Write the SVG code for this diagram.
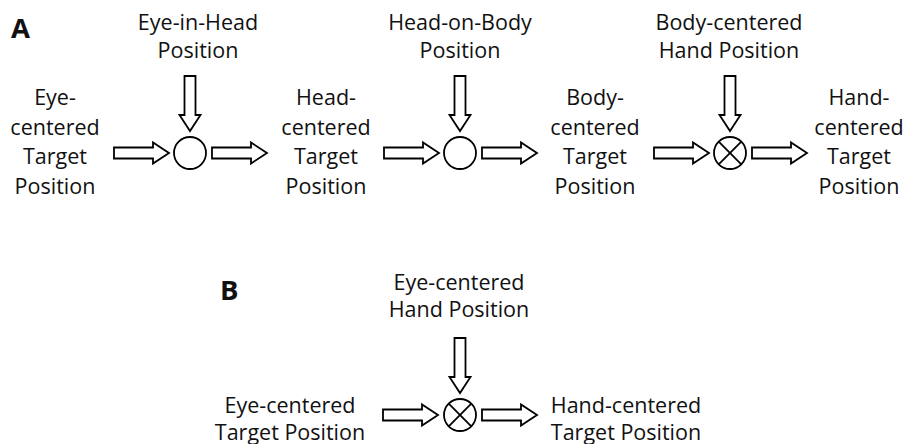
<svg xmlns="http://www.w3.org/2000/svg" xmlns:xlink="http://www.w3.org/1999/xlink" width="911" height="444" viewBox="0 0 911 444">
<defs>
<style>
.t{font-family:"Open Sans","Liberation Sans",sans-serif;font-size:21.5px;fill:#111;text-anchor:middle}
.p{font-family:"Open Sans","Liberation Sans",sans-serif;font-size:27.5px;font-weight:bold;fill:#111}
.ar{fill:#fff;stroke:#000;stroke-width:1.8;stroke-linejoin:miter}
.c{fill:#fff;stroke:#000;stroke-width:1.8}
.x{stroke:#000;stroke-width:1.8}
</style>
<path id="arr" class="ar" d="M0,-5.5 H39 V-10.5 L55,0 L39,10.5 V5.5 H0 Z"/>
</defs>
<rect width="911" height="444" fill="#fff"/>
<text class="p" x="11" y="38">A</text>
<text class="p" x="220" y="299.5">B</text>

<g id="connectors">
<use xlink:href="#arr" transform="translate(114,153)"/>
<use xlink:href="#arr" transform="translate(212,153)"/>
<use xlink:href="#arr" transform="translate(190,76) rotate(90)"/>
<use xlink:href="#arr" transform="translate(384,153)"/>
<use xlink:href="#arr" transform="translate(482,153)"/>
<use xlink:href="#arr" transform="translate(460,76) rotate(90)"/>
<use xlink:href="#arr" transform="translate(654,153)"/>
<use xlink:href="#arr" transform="translate(752,153)"/>
<use xlink:href="#arr" transform="translate(730,76) rotate(90)"/>
<use xlink:href="#arr" transform="translate(383,415)"/>
<use xlink:href="#arr" transform="translate(482,415)"/>
<use xlink:href="#arr" transform="translate(460,338) rotate(90)"/>
</g>

<g id="a-eye-target">
<text class="t" x="55" y="105">Eye-</text>
<text class="t" x="55" y="134.5">centered</text>
<text class="t" x="55" y="164">Target</text>
<text class="t" x="55" y="193.5">Position</text>
</g>
<g id="a-eye-in-head">
<text class="t" x="198" y="30">Eye-in-Head</text>
<text class="t" x="198" y="58">Position</text>
</g>
<g id="a-sum1"><circle class="c" cx="190" cy="153" r="16"/></g>
<g id="a-head-target">
<text class="t" x="326" y="105">Head-</text>
<text class="t" x="326" y="134.5">centered</text>
<text class="t" x="326" y="164">Target</text>
<text class="t" x="326" y="193.5">Position</text>
</g>
<g id="a-head-on-body">
<text class="t" x="460" y="30">Head-on-Body</text>
<text class="t" x="460" y="58">Position</text>
</g>
<g id="a-sum2"><circle class="c" cx="460" cy="153" r="16"/></g>
<g id="a-body-target">
<text class="t" x="595" y="105">Body-</text>
<text class="t" x="595" y="134.5">centered</text>
<text class="t" x="595" y="164">Target</text>
<text class="t" x="595" y="193.5">Position</text>
</g>
<g id="a-body-hand">
<text class="t" x="729" y="30">Body-centered</text>
<text class="t" x="729" y="58">Hand Position</text>
</g>
<g id="a-mul">
<circle class="c" cx="730" cy="153" r="16"/>
<line class="x" x1="718.7" y1="141.7" x2="741.3" y2="164.3"/>
<line class="x" x1="741.3" y1="141.7" x2="718.7" y2="164.3"/>
</g>
<g id="a-hand-target">
<text class="t" x="859" y="105">Hand-</text>
<text class="t" x="859" y="134.5">centered</text>
<text class="t" x="859" y="164">Target</text>
<text class="t" x="859" y="193.5">Position</text>
</g>

<g id="b-eye-hand">
<text class="t" x="459" y="290">Eye-centered</text>
<text class="t" x="459" y="317">Hand Position</text>
</g>
<g id="b-eye-target">
<text class="t" x="290" y="413">Eye-centered</text>
<text class="t" x="290" y="439.5">Target Position</text>
</g>
<g id="b-mul">
<circle class="c" cx="460" cy="415" r="16"/>
<line class="x" x1="448.7" y1="403.7" x2="471.3" y2="426.3"/>
<line class="x" x1="471.3" y1="403.7" x2="448.7" y2="426.3"/>
</g>
<g id="b-hand-target">
<text class="t" x="626" y="413">Hand-centered</text>
<text class="t" x="626" y="439.5">Target Position</text>
</g>
</svg>
